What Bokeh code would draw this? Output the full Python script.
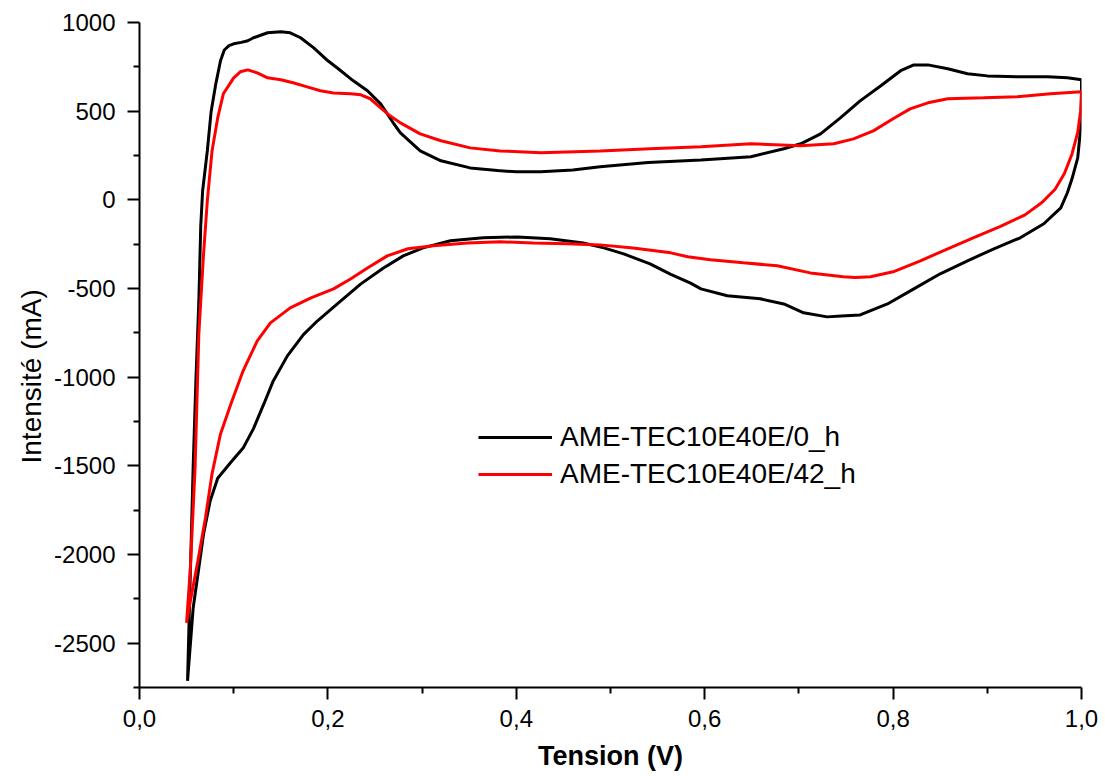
import math
from bokeh.plotting import figure
from bokeh.models import (FixedTicker, CustomJSTickFormatter, Range1d, Title,
                          Legend, LegendItem)
from bokeh.embed import file_html
from bokeh.resources import INLINE

# ---- data ----
labels = ["AME-TEC10E40E/0_h", "AME-TEC10E40E/42_h"]

v_0h = [0.051, 0.054, 0.057, 0.060, 0.063, 0.065, 0.067, 0.072, 0.076, 0.081,
        0.086, 0.090, 0.095, 0.100, 0.108, 0.115, 0.121, 0.136, 0.150, 0.160,
        0.171, 0.185, 0.200, 0.211, 0.227, 0.242, 0.256, 0.270, 0.277, 0.298,
        0.320, 0.351, 0.380, 0.400, 0.426, 0.460, 0.489, 0.540, 0.596, 0.649,
        0.684, 0.702, 0.723, 0.744, 0.765, 0.787, 0.808, 0.822, 0.837, 0.858,
        0.879, 0.900, 0.932, 0.964, 0.985, 1.000,
        1.000, 0.999, 0.996, 0.990, 0.985, 0.978, 0.960, 0.935, 0.907, 0.879,
        0.850, 0.822, 0.794, 0.765, 0.745, 0.730, 0.705, 0.684, 0.659, 0.624,
        0.596, 0.585, 0.564, 0.542, 0.514, 0.493, 0.471, 0.436, 0.401, 0.365,
        0.330, 0.301, 0.280, 0.259, 0.235, 0.210, 0.189, 0.174, 0.157, 0.142,
        0.132, 0.121, 0.110, 0.097, 0.083, 0.075, 0.068, 0.063, 0.057, 0.051]
i_0h = [-2713, -2100, -1500, -1000, -570, -150, 50, 276, 496, 654,
        784, 845, 870, 880, 888, 897, 914, 942, 948, 942,
        914, 857, 784, 739, 671, 615, 541, 429, 378, 276,
        220, 180, 165, 158, 158, 168, 186, 210, 225, 243,
        288, 316, 372, 462, 558, 643, 728, 761, 761, 739,
        711, 699, 694, 694, 688, 677,
        500, 400, 237, 120, 40, -45, -135, -214, -276, -344,
        -417, -502, -587, -649, -655, -660, -637, -587, -558, -541,
        -502, -470, -420, -361, -305, -271, -243, -220, -209, -214,
        -231, -271, -316, -384, -474, -587, -682, -760, -880, -1021,
        -1151, -1290, -1400, -1480, -1570, -1698, -1884, -2075, -2300, -2713]

v_42h = [0.050, 0.054, 0.059, 0.063, 0.068, 0.072, 0.077, 0.083, 0.089, 0.100,
         0.107, 0.115, 0.125, 0.136, 0.150, 0.163, 0.178, 0.192, 0.206, 0.224,
         0.235, 0.245, 0.256, 0.266, 0.277, 0.298, 0.320, 0.351, 0.383, 0.426,
         0.489, 0.542, 0.596, 0.649, 0.702, 0.737, 0.758, 0.779, 0.800, 0.818,
         0.837, 0.858, 0.896, 0.932, 0.967, 1.000,
         0.999, 0.996, 0.990, 0.982, 0.972, 0.958, 0.940, 0.914, 0.885, 0.858,
         0.829, 0.800, 0.776, 0.760, 0.747, 0.712, 0.677, 0.641, 0.606, 0.582,
         0.564, 0.524, 0.489, 0.454, 0.418, 0.383, 0.348, 0.312, 0.285, 0.263,
         0.242, 0.224, 0.206, 0.182, 0.160, 0.139, 0.125, 0.110, 0.097, 0.086,
         0.077, 0.070, 0.062, 0.054, 0.050]
i_42h = [-2386, -2075, -1512, -756, -305, -6, 276, 462, 598, 688,
         722, 733, 716, 688, 677, 660, 637, 615, 603, 598,
         592, 570, 519, 474, 434, 372, 333, 293, 276, 265,
         276, 288, 299, 316, 305, 316, 344, 389, 457, 513,
         547, 570, 575, 581, 598, 609,
         500, 380, 260, 150, 60, -15, -85, -150, -214, -276,
         -344, -406, -434, -438, -434, -412, -372, -355, -338, -321,
         -299, -271, -254, -248, -243, -237, -243, -259, -276, -316,
         -384, -446, -502, -553, -609, -694, -795, -964, -1151, -1320,
         -1545, -1794, -2036, -2262, -2386]

x_ticks = [0.0, 0.2, 0.4, 0.6, 0.8, 1.0]
x_minor = [0.1, 0.3, 0.5, 0.7, 0.9]
y_ticks = [1000, 500, 0, -500, -1000, -1500, -2000, -2500]
y_minor = [750, 250, -250, -750, -1250, -1750, -2250, -2750]

FONT = "Liberation Sans"

p = figure(width=1105, height=776, output_backend="svg", toolbar_location=None,
           x_range=Range1d(0, 1.0), y_range=Range1d(-2750, 1000),
           min_border_left=139, min_border_right=24, min_border_top=22,
           min_border_bottom=89)
p.outline_line_color = None
p.xgrid.visible = False
p.ygrid.visible = False
p.background_fill_color = "white"
p.border_fill_color = "white"

r0 = p.line(v_0h, i_0h, line_color="#000000", line_width=3)
r1 = p.line(v_42h, i_42h, line_color="#ff0000", line_width=3)

for ax in (p.xaxis[0], p.yaxis[0]):
    ax.axis_line_width = 2
    ax.axis_line_color = "black"
    ax.major_tick_line_width = 2
    ax.minor_tick_line_width = 2
    ax.major_tick_line_color = "black"
    ax.minor_tick_line_color = "black"
    ax.major_tick_out = 12
    ax.major_tick_in = 0
    ax.minor_tick_out = 6
    ax.minor_tick_in = 0
    ax.major_label_text_font = FONT
    ax.major_label_text_font_size = "24px"
    ax.major_label_text_color = "black"

p.xaxis.ticker = FixedTicker(ticks=x_ticks, minor_ticks=x_minor)
p.yaxis.ticker = FixedTicker(ticks=y_ticks, minor_ticks=y_minor)
p.xaxis.formatter = CustomJSTickFormatter(code="return tick.toFixed(1).replace('.', ',');")
p.yaxis.formatter = CustomJSTickFormatter(code="return tick.toFixed(0);")
p.xaxis.major_label_standoff = 10
p.yaxis.major_label_standoff = 12

p.xaxis.axis_label = "Tension (V)"
p.xaxis.axis_label_text_font = FONT
p.xaxis.axis_label_text_font_size = "27px"
p.xaxis.axis_label_text_font_style = "bold"
p.xaxis.axis_label_text_color = "black"
p.xaxis.axis_label_standoff = 11

ytitle = Title(text="Intensité (mA)", align="left", offset=224,
               text_font=FONT, text_font_size="28px", text_font_style="normal",
               text_color="black")
p.add_layout(ytitle, "left")

legend = Legend(items=[LegendItem(label=labels[0], renderers=[r0]),
                       LegendItem(label=labels[1], renderers=[r1])],
                location=(339, 197))
legend.border_line_color = None
legend.background_fill_alpha = 0
legend.padding = 0
legend.margin = 0
legend.glyph_width = 74
legend.glyph_height = 30
legend.label_height = 30
legend.spacing = 5
legend.label_standoff = 8
legend.label_text_font = FONT
legend.label_text_font_size = "28px"
legend.label_text_color = "black"
p.add_layout(legend)

open("out.html", "w").write(file_html(p, INLINE))
